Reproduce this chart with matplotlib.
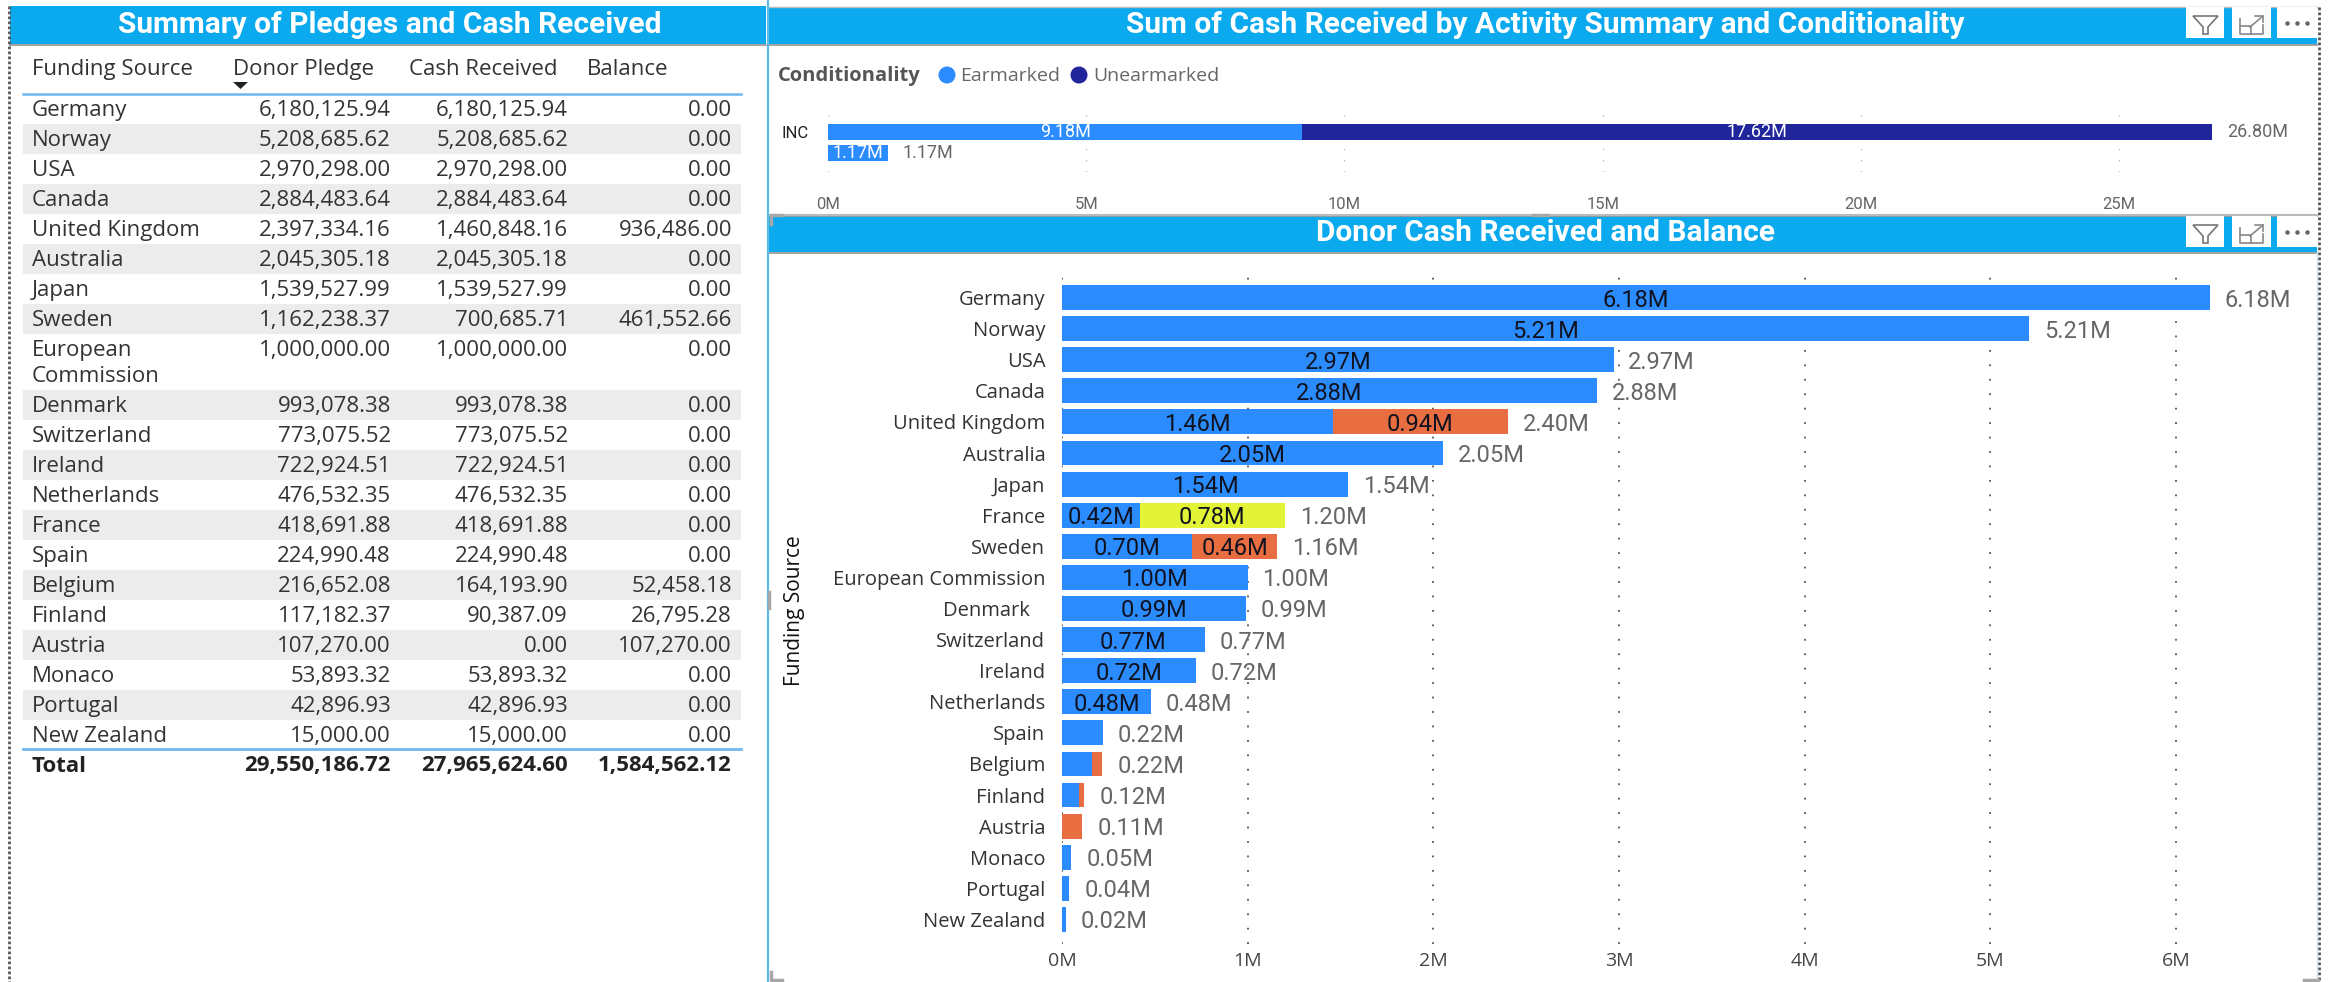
import matplotlib
matplotlib.use("Agg")
import matplotlib.pyplot as plt
from matplotlib.patches import Rectangle, Polygon, Circle

W, H = 2331, 982
BODY_FONT = "Open Sans"
NUM_FONT = "Roboto"

# Table data
sources = ["Germany", "Norway", "USA", "Canada", "United Kingdom", "Australia", "Japan", "Sweden",
           "European\nCommission", "Denmark", "Switzerland", "Ireland", "Netherlands", "France", "Spain",
           "Belgium", "Finland", "Austria", "Monaco", "Portugal", "New Zealand"]
pledge = [6180125.94, 5208685.62, 2970298.00, 2884483.64, 2397334.16, 2045305.18, 1539527.99, 1162238.37,
          1000000.00, 993078.38, 773075.52, 722924.51, 476532.35, 418691.88, 224990.48,
          216652.08, 117182.37, 107270.00, 53893.32, 42896.93, 15000.00]
cash = [6180125.94, 5208685.62, 2970298.00, 2884483.64, 1460848.16, 2045305.18, 1539527.99, 700685.71,
        1000000.00, 993078.38, 773075.52, 722924.51, 476532.35, 418691.88, 224990.48,
        164193.90, 90387.09, 0.00, 53893.32, 42896.93, 15000.00]
balance = [0.00, 0.00, 0.00, 0.00, 936486.00, 0.00, 0.00, 461552.66,
           0.00, 0.00, 0.00, 0.00, 0.00, 0.00, 0.00,
           52458.18, 26795.28, 107270.00, 0.00, 0.00, 0.00]
totals = [29550186.72, 27965624.60, 1584562.12]
headers = ["Funding Source", "Donor Pledge", "Cash Received", "Balance"]

# Top chart data (millions)
activities = ["INC", ""]
earmarked = [9.18, 1.17]
unearmarked = [17.62, 0]
activity_total = [26.80, 1.17]
top_ticks = [0, 5, 10, 15, 20, 25]

# Donor chart data (millions)
donors = ["Germany", "Norway", "USA", "Canada", "United Kingdom", "Australia", "Japan", "France", "Sweden",
          "European Commission", "Denmark", "Switzerland", "Ireland", "Netherlands", "Spain", "Belgium",
          "Finland", "Austria", "Monaco", "Portugal", "New Zealand"]
received = [6.18, 5.21, 2.97, 2.88, 1.46, 2.05, 1.54, 0.42, 0.70, 1.00, 0.99, 0.77, 0.72, 0.48, 0.22, 0.164,
            0.09, 0, 0.05, 0.04, 0.02]
outstanding = [0, 0, 0, 0, 0.94, 0, 0, 0, 0.46, 0, 0, 0, 0, 0, 0, 0.052, 0.027, 0.11, 0, 0, 0]
extra = [0, 0, 0, 0, 0, 0, 0, 0.78, 0, 0, 0, 0, 0, 0, 0, 0, 0, 0, 0, 0, 0]
donor_total = [6.18, 5.21, 2.97, 2.88, 2.40, 2.05, 1.54, 1.20, 1.16, 1.00, 0.99, 0.77, 0.72, 0.48, 0.22, 0.22,
               0.12, 0.11, 0.05, 0.04, 0.02]
donor_ticks = [0, 1, 2, 3, 4, 5, 6]

BAND = "#0BA9EE"
BLUE = "#2B8CFF"
NAVY = "#20259B"
ORANGE = "#E86D40"
YELLOW = "#E3F335"
STRIPE = "#ECECEC"
TABLE_SIZE = 16


def px_axes(fig, x0, y0, x1, y1):
    ax = fig.add_axes([x0 / W, 1 - y1 / H, (x1 - x0) / W, (y1 - y0) / H])
    ax.patch.set_alpha(0)
    for s in ax.spines.values():
        s.set_visible(False)
    return ax


def draw_icons(bg, y):
    for x0, x1 in [(2186, 2224), (2232, 2271), (2277, 2317)]:
        bg.add_patch(Rectangle((x0, y), x1 - x0, 31, fc="white", ec="none", zorder=3))
    # funnel
    bg.add_patch(Polygon([(2193, y + 9), (2218, y + 9), (2208, y + 20), (2208, y + 31 - 4),
                          (2203, y + 31 - 4), (2203, y + 20)], fc="none", ec="#777777", lw=1.2, zorder=4))
    # expand
    bg.plot([2240, 2240, 2263, 2263], [y + 12, y + 27, y + 27, y + 18], color="#888888", lw=1.2, zorder=4)
    bg.plot([2240, 2251, 2251], [y + 19, y + 19, y + 27], color="#888888", lw=1.2, zorder=4)
    bg.plot([2250, 2263], [y + 20, y + 9], color="#888888", lw=1.2, zorder=4)
    bg.plot([2255, 2263, 2263], [y + 9, y + 9, y + 15], color="#888888", lw=1.2, zorder=4)
    # dots
    bg.scatter([2287, 2297, 2307], [y + 16, y + 16, y + 16], s=5, color="#666666", zorder=4)


def draw_chrome(bg):
    # Title bands
    bg.add_patch(Rectangle((10, 6), 756, 38, fc=BAND, ec="none"))
    bg.add_patch(Rectangle((769, 7), 1548, 37, fc=BAND, ec="none"))
    bg.add_patch(Rectangle((769, 216), 1548, 36, fc=BAND, ec="none"))
    for x0, x1, y in [(10, 766, 44.5), (769, 2317, 44.5), (769, 2317, 216), (769, 2317, 252.5)]:
        bg.plot([x0, x1], [y, y], color="#9A9A9A", lw=1.3)
    bg.plot([769, 2317], [6.5, 6.5], color="#BBBBBB", lw=1)
    bg.plot([769, 2317], [214.5, 214.5], color="#BBBBBB", lw=1.5)

    title_kw = dict(color="white", fontfamily=NUM_FONT, fontweight="bold", ha="center", va="center")
    bg.text(390, 25, "Summary of Pledges and Cash Received", fontsize=21.5, **title_kw)
    bg.text(1545, 25, "Sum of Cash Received by Activity Summary and Conditionality", fontsize=21.5, **title_kw)
    bg.text(1545, 233, "Donor Cash Received and Balance", fontsize=21.5, **title_kw)

    # Borders
    bg.plot([9, 9], [6, 982], color="#555555", lw=2, linestyle=(0, (1, 0.8)))
    bg.plot([2319, 2319], [7, 982], color="#555555", lw=2, linestyle=(0, (1, 0.8)))
    bg.plot([767.5, 767.5], [0, 982], color="#5DBBEA", lw=1.6)
    bg.plot([2316.5, 2316.5], [252, 982], color="#CFE6F2", lw=1)

    # Resize handles
    for xs, ys in [([771, 771, 782], [972, 980, 980]), ([2304, 2318], [980, 980]),
                   ([1533, 1548], [215, 215]), ([769, 769], [592, 608]), ([771, 771, 782], [224, 215, 215])]:
        bg.plot(xs, ys, color="#A8A8A8", lw=2.5)

    draw_icons(bg, 7)
    draw_icons(bg, 216)


def draw_table(bg):
    col_right = [391, 568, 732]
    head_left = [32, 233, 409, 587]
    for x, label in zip(head_left, headers):
        bg.text(x, 69, label, fontsize=TABLE_SIZE, color="#333333", ha="left", va="center")
    bg.add_patch(Polygon([(233, 82), (248, 82), (240.5, 89)], fc="#222222", ec="none"))
    bg.plot([23, 741], [94, 94], color="#6FB7F0", lw=1.8)

    y = 94
    for i, name in enumerate(sources):
        h = 56 if "\n" in name else 30
        if i % 2 == 1:
            bg.add_patch(Rectangle((23, y), 718, h, fc=STRIPE, ec="none"))
        yc = y + 16.5
        if "\n" in name:
            first, second = name.split("\n")
            bg.text(32, yc, first, fontsize=TABLE_SIZE, color="#333333", va="center")
            bg.text(32, yc + 26, second, fontsize=TABLE_SIZE, color="#333333", va="center")
        else:
            bg.text(32, yc, name, fontsize=TABLE_SIZE, color="#333333", va="center")
        for x, vals in zip(col_right, (pledge, cash, balance)):
            bg.text(x, yc, f"{vals[i]:,.2f}", fontsize=TABLE_SIZE, color="#333333", ha="right", va="center")
        y += h
    bg.plot([23, 741], [749, 749], color="#6FB7F0", lw=2)
    bg.text(32, 766, "Total", fontsize=TABLE_SIZE, fontweight="bold", color="#222222", va="center")
    for x, v in zip(col_right, totals):
        bg.text(x, 766, f"{v:,.2f}", fontsize=TABLE_SIZE, fontweight="bold", color="#222222", ha="right", va="center")


def draw_legend(bg):
    bg.text(778, 76, "Conditionality", fontsize=14.5, fontweight="bold", color="#555555", va="center")
    bg.add_patch(Circle((947, 75), 8.5, fc=BLUE, ec="none"))
    bg.text(960, 76, "Earmarked", fontsize=14, color="#666666", va="center")
    bg.add_patch(Circle((1079, 75), 8.5, fc=NAVY, ec="none"))
    bg.text(1093, 76, "Unearmarked", fontsize=14, color="#666666", va="center")


def draw_top_chart(fig):
    ax = px_axes(fig, 828, 106, 2316, 172)
    y = list(range(len(activities)))
    ax.barh(y, earmarked, height=0.76, color=BLUE, zorder=3)
    ax.barh(y, unearmarked, left=earmarked, height=0.76, color=NAVY, zorder=3)
    ax.set_xlim(0, 28.81)
    ax.set_ylim(1.905, -1.238)
    ax.set_xticks(top_ticks, [f"{t}M" for t in top_ticks], fontfamily=NUM_FONT, fontsize=12, color="#666666")
    ax.set_yticks(y, activities, fontfamily=NUM_FONT, fontsize=12, color="#222222")
    ax.tick_params(length=0)
    ax.tick_params(axis="x", pad=18)
    ax.tick_params(axis="y", pad=14)
    ax.grid(axis="x", color="#BBBBBB", lw=1, linestyle=(0, (1, 7)), zorder=0)
    ax.set_axisbelow(True)
    for i in y:
        ax.text(earmarked[i] / 2, i, f"{earmarked[i]:.2f}M", color="white", fontfamily=NUM_FONT, fontsize=13,
                ha="center", va="center", zorder=5)
        if unearmarked[i] > 0:
            ax.text(earmarked[i] + unearmarked[i] / 2, i, f"{unearmarked[i]:.2f}M", color="white",
                    fontfamily=NUM_FONT, fontsize=13, ha="center", va="center", zorder=5)
        ax.text(activity_total[i] + 0.28, i, f"{activity_total[i]:.2f}M", color="#666666",
                fontfamily=NUM_FONT, fontsize=13, ha="left", va="center", zorder=5)


def draw_donor_chart(fig):
    ax = px_axes(fig, 1062, 277, 2316, 944)
    y = list(range(len(donors)))
    base2 = [a + b for a, b in zip(received, outstanding)]
    ax.barh(y, received, height=0.8, color=BLUE, zorder=3)
    ax.barh(y, outstanding, left=received, height=0.8, color=ORANGE, zorder=3)
    ax.barh(y, extra, left=base2, height=0.8, color=YELLOW, zorder=3)
    ax.set_xlim(0, 6.753)
    ax.set_ylim(20.79, -0.66)
    ax.set_xticks(donor_ticks, [f"{t}M" for t in donor_ticks], fontsize=14, color="#444444")
    labels = [d + "   " if d == "Denmark" else d for d in donors]
    ax.set_yticks(y, labels, fontsize=14.5, color="#333333")
    ax.tick_params(length=0)
    ax.tick_params(axis="x", pad=6)
    ax.tick_params(axis="y", pad=12)
    ax.grid(axis="x", color="#555555", lw=1.3, linestyle=(0, (1, 7)), zorder=0)
    ax.set_axisbelow(True)
    ax.set_ylabel("Funding Source", fontsize=15, color="#111111")
    ax.yaxis.set_label_coords(-0.205, 0.5)

    txt = dict(fontfamily=NUM_FONT, fontsize=17, va="center_baseline", zorder=5)
    for i in y:
        left = 0
        for vals in (received, outstanding, extra):
            if vals[i] >= 0.4:
                ax.text(left + vals[i] / 2, i, f"{vals[i]:.2f}M", color="#10131F", ha="center", **txt)
            left += vals[i]
        ax.text(donor_total[i] + 0.08, i, f"{donor_total[i]:.2f}M", color="#666666", ha="left", **txt)


def main():
    fig = plt.figure(figsize=(W / 100, H / 100), dpi=100, facecolor="white")
    plt.rcParams["font.family"] = [BODY_FONT, "DejaVu Sans"]

    bg = fig.add_axes([0, 0, 1, 1])
    bg.set_xlim(0, W)
    bg.set_ylim(H, 0)
    bg.axis("off")

    draw_chrome(bg)
    draw_table(bg)
    draw_legend(bg)
    draw_top_chart(fig)
    draw_donor_chart(fig)

    fig.savefig("out.png", dpi=100)


if __name__ == "__main__":
    main()
